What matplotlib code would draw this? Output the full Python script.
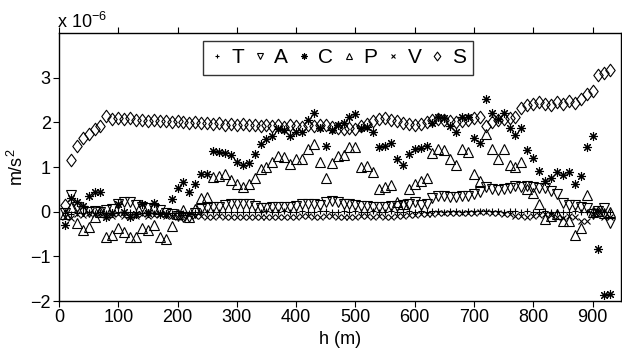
import matplotlib
matplotlib.use("Agg")
import matplotlib.pyplot as plt
from matplotlib import font_manager
from matplotlib.path import Path

h = [10, 20, 30, 40, 50, 60, 70, 80, 90, 100,
     110, 120, 130, 140, 150, 160, 170, 180, 190, 200,
     210, 220, 230, 240, 250, 260, 270, 280, 290, 300,
     310, 320, 330, 340, 350, 360, 370, 380, 390, 400,
     410, 420, 430, 440, 450, 460, 470, 480, 490, 500,
     510, 520, 530, 540, 550, 560, 570, 580, 590, 600,
     610, 620, 630, 640, 650, 660, 670, 680, 690, 700,
     710, 720, 730, 740, 750, 760, 770, 780, 790, 800,
     810, 820, 830, 840, 850, 860, 870, 880, 890, 900,
     910, 920, 930]

T = [-0.02, -0.05, -0.04, -0.03, -0.01, -0.02, 0.00, -0.03, -0.02, -0.01,
     -0.02, 0.00, -0.01, -0.02, -0.01, -0.03, -0.02, -0.02, -0.03, -0.04,
     -0.03, -0.02, -0.01, -0.01, 0.00, -0.01, -0.01, 0.00, -0.01, 0.00,
     0.00, -0.01, 0.00, 0.00, 0.01, 0.00, 0.00, 0.01, 0.00, 0.00,
     0.01, 0.00, 0.00, 0.01, 0.01, 0.00, 0.00, 0.01, 0.00, 0.01,
     0.00, 0.00, 0.01, 0.00, 0.00, 0.01, 0.00, 0.00, 0.01, 0.00,
     0.01, 0.00, 0.01, 0.01, 0.00, 0.01, 0.01, 0.00, 0.01, 0.01,
     0.01, 0.02, 0.01, 0.01, 0.00, 0.01, 0.01, 0.00, 0.01, 0.00,
     0.00, 0.01, 0.00, -0.01, 0.00, 0.00, 0.01, 0.00, -0.01, 0.00,
     0.01, 0.00, 0.00]

A = [-0.03, 0.38, 0.10, 0.02, 0.00, 0.02, 0.00, 0.03, 0.05, 0.18,
     0.22, 0.22, 0.15, 0.10, 0.08, 0.05, 0.03, -0.02, -0.05, -0.10,
     -0.13, -0.12, -0.02, 0.05, 0.08, 0.10, 0.10, 0.16, 0.18, 0.18,
     0.18, 0.17, 0.12, 0.08, 0.08, 0.10, 0.10, 0.10, 0.11, 0.13,
     0.18, 0.18, 0.17, 0.14, 0.22, 0.23, 0.22, 0.17, 0.17, 0.14,
     0.13, 0.12, 0.10, 0.10, 0.10, 0.12, 0.12, 0.14, 0.18, 0.22,
     0.16, 0.18, 0.30, 0.34, 0.34, 0.32, 0.32, 0.34, 0.36, 0.40,
     0.44, 0.55, 0.50, 0.48, 0.50, 0.53, 0.58, 0.56, 0.58, 0.56,
     0.54, 0.52, 0.46, 0.40, 0.20, 0.16, 0.15, 0.10, 0.08, -0.05,
     0.02, 0.08, -0.25]

C = [-0.30, 0.30, 0.22, 0.12, 0.35, 0.45, 0.45, -0.12, -0.02, 0.18,
     0.00, -0.12, -0.05, 0.18, -0.03, 0.20, -0.06, -0.06, 0.28, 0.53,
     0.67, 0.44, 0.63, 0.84, 0.85, 1.36, 1.33, 1.31, 1.27, 1.11,
     1.05, 1.10, 1.28, 1.51, 1.62, 1.70, 1.85, 1.83, 1.70, 1.78,
     1.78, 2.06, 2.21, 1.87, 1.46, 1.82, 1.95, 1.99, 2.13, 2.19,
     1.88, 1.90, 1.78, 1.44, 1.47, 1.53, 1.19, 1.05, 1.29, 1.40,
     1.42, 1.47, 1.99, 2.11, 2.10, 1.91, 1.79, 2.13, 2.12, 1.66,
     1.53, 2.52, 2.22, 2.07, 2.22, 1.88, 1.71, 1.88, 1.37, 1.20,
     0.91, 0.68, 0.76, 0.88, 0.82, 0.88, 0.62, 0.79, 1.45, 1.70,
     -0.84, -1.86, -1.85]

P = [-0.05, 0.10, -0.25, -0.40, -0.34, -0.12, 0.00, -0.56, -0.53, -0.36,
     -0.46, -0.56, -0.56, -0.36, -0.40, -0.29, -0.56, -0.62, -0.32, -0.05,
     0.03, -0.12, 0.05, 0.30, 0.32, 0.77, 0.80, 0.84, 0.71, 0.62,
     0.56, 0.62, 0.75, 0.96, 1.01, 1.12, 1.25, 1.23, 1.07, 1.17,
     1.17, 1.41, 1.51, 1.12, 0.76, 1.10, 1.25, 1.27, 1.44, 1.44,
     0.99, 1.02, 0.88, 0.50, 0.55, 0.60, 0.22, 0.18, 0.50, 0.63,
     0.68, 0.76, 1.31, 1.40, 1.38, 1.19, 1.04, 1.40, 1.33, 0.84,
     0.69, 1.74, 1.40, 1.18, 1.40, 1.04, 1.00, 1.12, 0.50, 0.42,
     0.17, -0.17, -0.10, -0.05, -0.20, -0.21, -0.53, -0.37, 0.38, 0.00,
     0.02, -0.03, 0.00]

V = [-0.12, -0.15, -0.05, -0.08, -0.02, -0.05, -0.03, -0.08, -0.10, -0.06,
     -0.10, -0.08, -0.10, -0.06, -0.10, -0.08, -0.06, -0.09, -0.10, -0.12,
     -0.10, -0.08, -0.10, -0.10, -0.12, -0.12, -0.10, -0.12, -0.12, -0.13,
     -0.12, -0.12, -0.13, -0.12, -0.12, -0.12, -0.11, -0.12, -0.12, -0.11,
     -0.10, -0.10, -0.11, -0.12, -0.10, -0.10, -0.11, -0.12, -0.12, -0.11,
     -0.10, -0.10, -0.11, -0.10, -0.11, -0.12, -0.10, -0.10, -0.08, -0.08,
     -0.06, -0.05, -0.05, -0.04, -0.03, -0.03, -0.02, -0.02, -0.03, -0.02,
     -0.01, 0.00, -0.02, -0.03, -0.05, -0.06, -0.10, -0.10, -0.12, -0.10,
     -0.08, -0.06, -0.08, -0.12, -0.15, -0.10, -0.12, -0.20, -0.22, -0.05,
     0.02, -0.12, -0.12]

S = [0.15, 1.15, 1.48, 1.65, 1.75, 1.85, 1.92, 2.15, 2.08, 2.10,
     2.08, 2.10, 2.06, 2.05, 2.03, 2.05, 2.02, 2.03, 2.00, 2.02,
     2.00, 1.98, 2.00, 1.98, 1.98, 1.96, 1.98, 1.95, 1.97, 1.94,
     1.96, 1.93, 1.95, 1.92, 1.93, 1.92, 1.93, 1.90, 1.93, 1.92,
     1.90, 1.93, 1.92, 1.95, 1.93, 1.90, 1.87, 1.85, 1.87, 1.85,
     1.92, 1.97, 2.03, 2.07, 2.10, 2.05, 2.02, 1.98, 1.97, 1.95,
     1.97, 2.00, 2.05, 2.08, 2.05, 2.03, 2.00, 2.02, 2.05, 2.10,
     2.12, 1.92, 2.00, 2.05, 2.08, 2.10, 2.13, 2.33, 2.38, 2.42,
     2.45, 2.40, 2.38, 2.45, 2.42, 2.48, 2.43, 2.52, 2.63, 2.70,
     3.05, 3.10, 3.18]

names = ["T", "A", "C", "P", "V", "S"]
x_ticks = [0, 100, 200, 300, 400, 500, 600, 700, 800, 900]
y_ticks = [-2, -1, 0, 1, 2, 3]

available = {f.name for f in font_manager.fontManager.ttflist}
fam = "Liberation Sans Narrow" if "Liberation Sans Narrow" in available else "Liberation Sans"
plt.rcParams["font.family"] = [fam, "DejaVu Sans"]
plt.rcParams["mathtext.fontset"] = "custom"
plt.rcParams["mathtext.rm"] = fam
plt.rcParams["mathtext.it"] = fam

diamond = Path([(0, 1), (0.75, 0), (0, -1), (-0.75, 0), (0, 1)],
               [Path.MOVETO, Path.LINETO, Path.LINETO, Path.LINETO, Path.CLOSEPOLY])

fig = plt.figure(figsize=(6.22, 3.51), dpi=100)
ax = fig.add_axes([59 / 622, 1 - 301 / 351, 562 / 622, 268 / 351])

k = dict(linestyle="none", color="black", mfc="none", mec="black", mew=0.8)
ax.plot(h, T, marker="+", ms=5, label=names[0], **k)
ax.plot(h, A, marker="v", ms=6.5, label=names[1], **k)
ax.plot(h, C, marker=(8, 2, 0), ms=6.5, label=names[2], **k)
ax.plot(h, P, marker="^", ms=6.5, label=names[3], **k)
ax.plot(h, V, marker="x", ms=4, label=names[4], **k)
ax.plot(h, S, marker=diamond, ms=9, label=names[5], **k)

ax.set_xlim(0, 948)
ax.set_ylim(-2, 4)
ax.set_xticks(x_ticks)
ax.set_yticks(y_ticks)
ax.set_yticklabels(["\u22122", "\u22121", "0", "1", "2", "3"])
ax.tick_params(direction="out", length=4, width=0.8, labelsize=13,
               top=True, right=True, pad=2)
for sp in ax.spines.values():
    sp.set_linewidth(1.0)

ax.set_xlabel("h (m)", fontsize=13, labelpad=3)
ax.set_ylabel("m/s$^2$", fontsize=13, labelpad=2)
fig.text(57 / 622, 1 - 28 / 351, "x 10$^{-6}$", fontsize=13, ha="left", va="baseline")

leg = ax.legend(loc="center", bbox_to_anchor=(0.4965, 0.907), ncol=6,
                fontsize=15, markerscale=0.7, handlelength=0.6,
                handletextpad=0.4, columnspacing=0.45, borderpad=0.35,
                frameon=True, fancybox=False, edgecolor="black")
leg.get_frame().set_linewidth(1.0)

fig.savefig("out.png", dpi=100)
